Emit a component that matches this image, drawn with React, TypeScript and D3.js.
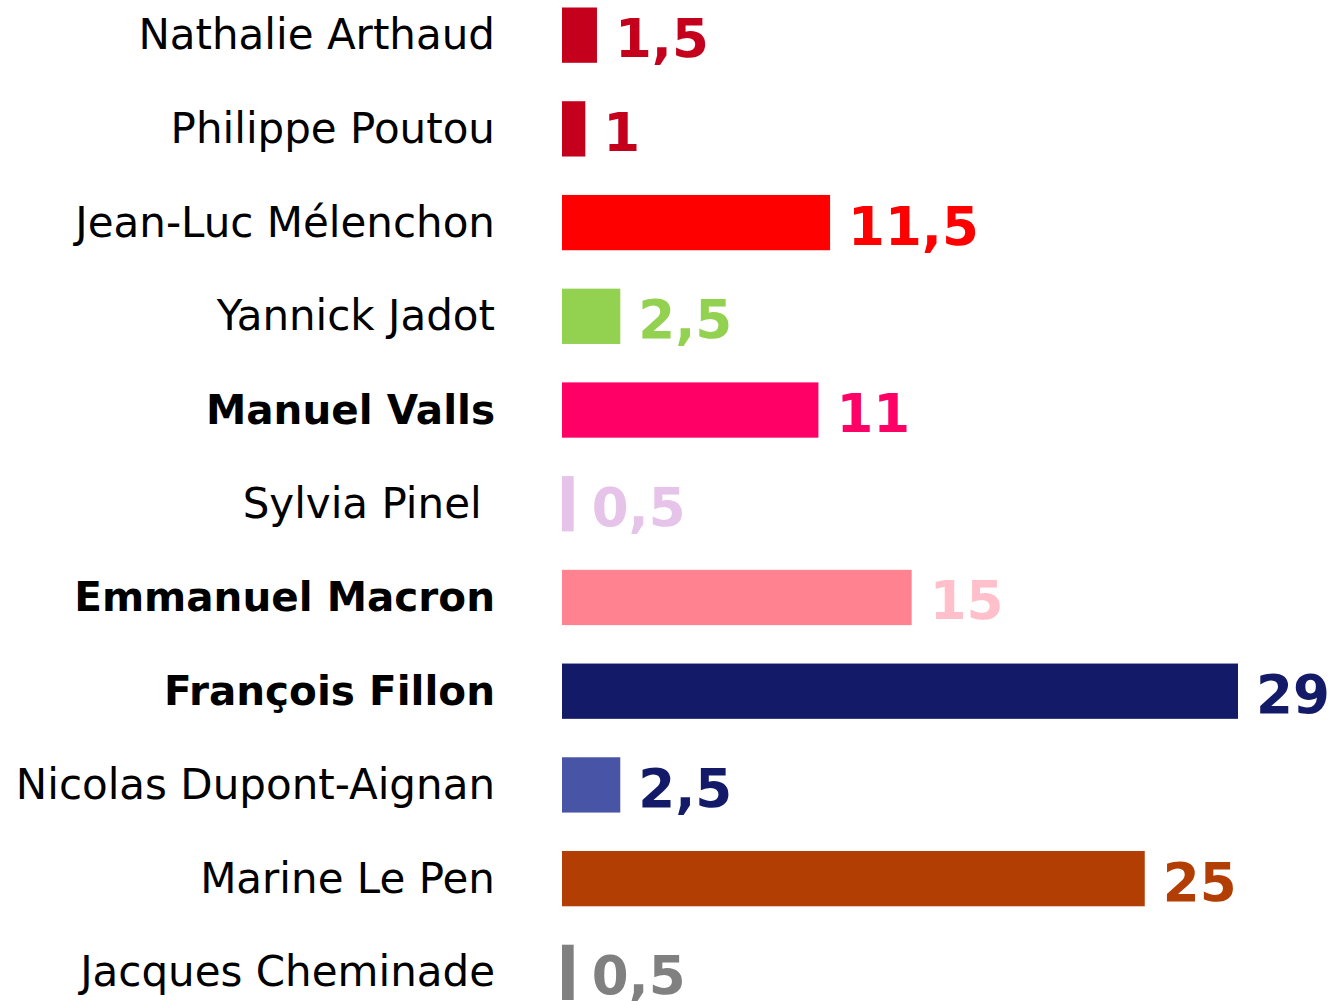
import * as d3 from "d3";

const candidates = [
  "Nathalie Arthaud",
  "Philippe Poutou",
  "Jean-Luc Mélenchon",
  "Yannick Jadot",
  "Manuel Valls",
  "Sylvia Pinel ",
  "Emmanuel Macron",
  "François Fillon",
  "Nicolas Dupont-Aignan",
  "Marine Le Pen",
  "Jacques Cheminade",
];
const scores = [1.5, 1, 11.5, 2.5, 11, 0.5, 15, 29, 2.5, 25, 0.5];
const boldNames = ["Manuel Valls", "Emmanuel Macron", "François Fillon"];
const barColors = [
  "#c5001d", "#c5001d", "#ff0000", "#93d150", "#ff0066", "#e6c3e8",
  "#ff8291", "#131b69", "#4855a6", "#b33e04", "#808080",
];
const labelColors = [
  "#c5001d", "#c5001d", "#ff0000", "#93d150", "#ff0066", "#e6c3e8",
  "#ffc0cb", "#131b69", "#131b69", "#b33e04", "#808080",
];

const W = 1335;
const H = 1001;

export default function App() {
  const y = d3.scaleBand<string>()
    .domain(candidates)
    .range([7.5, 1000])
    .paddingInner(0.41)
    .paddingOuter(0);
  const x = d3.scaleLinear().domain([0, 29]).range([562, 1238]);
  const font = "'DejaVu Sans', Verdana, sans-serif";

  return (
    <svg
      width={W}
      height={H}
      style={{ position: "absolute", left: 0, top: 0, background: "#fff" }}
    >
      {candidates.map((name, i) => {
        const top = y(name) ?? 0;
        const cy = top + y.bandwidth() / 2;
        const v = scores[i];
        const bold = boldNames.includes(name);
        return (
          <g key={name}>
            <text
              x={495}
              y={cy + 14}
              textAnchor="end"
              fontFamily={font}
              fontSize={bold ? 40.5 : 42}
              fontWeight={bold ? "bold" : "normal"}
              fill="#000"
              style={{ whiteSpace: "pre" }}
            >
              {name}
            </text>
            <rect
              x={x(0)}
              y={top}
              width={x(v) - x(0)}
              height={y.bandwidth()}
              fill={barColors[i]}
            />
            <text
              x={x(v) + 18}
              y={cy + 22}
              fontFamily={font}
              fontSize={53}
              fontWeight="bold"
              fill={labelColors[i]}
            >
              {String(v).replace(".", ",")}
            </text>
          </g>
        );
      })}
    </svg>
  );
}
